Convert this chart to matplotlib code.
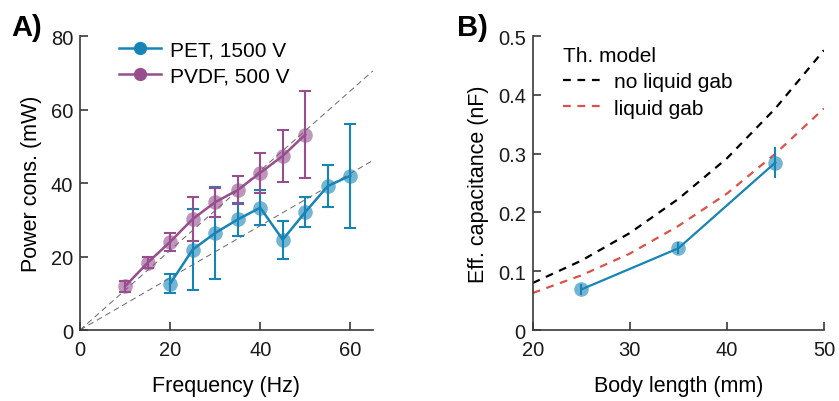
import numpy as np
import matplotlib.pyplot as plt

plt.rcParams['font.family'] = ['Liberation Sans', 'DejaVu Sans']

# Panel A: power consumption vs frequency
pet_freq = [20, 25, 30, 35, 40, 45, 50, 55, 60]
pet_power = [12.6, 21.9, 26.4, 30.1, 33.3, 24.6, 32.1, 39.2, 42.0]
pet_err = [2.6, 11.0, 12.4, 4.6, 4.8, 5.2, 4.0, 5.8, 14.2]

pvdf_freq = [10, 15, 20, 25, 30, 35, 40, 45, 50]
pvdf_power = [11.9, 18.3, 24.0, 30.2, 34.8, 38.1, 42.8, 47.4, 53.2]
pvdf_err = [1.5, 1.5, 2.4, 5.9, 3.9, 3.7, 5.5, 7.0, 11.9]

# slopes of the linear fits through the origin (mW/Hz)
pvdf_slope = 1.085
pet_slope = 0.71

# Panel B: effective capacitance vs body length
body_len = [25, 35, 45]
eff_cap = [0.069, 0.139, 0.285]
eff_cap_err = [0.010, 0.010, 0.027]

model_len = [20, 25, 30, 35, 40, 45, 50]
model_no_gap = [0.080, 0.118, 0.165, 0.223, 0.292, 0.377, 0.476]
model_gap = [0.063, 0.093, 0.130, 0.177, 0.232, 0.300, 0.377]

blue = '#1784b6'
purple = '#974e8e'
red = '#d9534c'
spine_col = '#3a3a3a'

fig = plt.figure(figsize=(8.39, 4.02), dpi=100)
axA = fig.add_axes([0.0954, 0.1766, 0.349, 0.731])
axB = fig.add_axes([0.635, 0.1766, 0.347, 0.731])


def style_axes(ax):
    for side in ['top', 'right']:
        ax.spines[side].set_visible(False)
    for side in ['left', 'bottom']:
        ax.spines[side].set_color(spine_col)
        ax.spines[side].set_linewidth(1.2)
    ax.tick_params(axis='both', direction='in', length=6, width=1.2,
                   color=spine_col, labelsize=14.5, labelcolor='#1a1a1a')
    ax.tick_params(axis='x', pad=7)
    ax.tick_params(axis='y', pad=5)


# ---- Panel A ----
xfit = np.array([0, 65])
axA.plot(xfit, pvdf_slope * xfit, ls=(0, (6, 4)), color='#666666', lw=0.7, zorder=1)
axA.plot(xfit, pet_slope * xfit, ls=(0, (6, 4)), color='#666666', lw=0.7, zorder=1)

for f, p, e, c, lab in [(pet_freq, pet_power, pet_err, blue, 'PET, 1500 V'),
                        (pvdf_freq, pvdf_power, pvdf_err, purple, 'PVDF, 500 V')]:
    axA.errorbar(f, p, yerr=e, fmt='none', ecolor=c, elinewidth=1.5,
                 capsize=4, capthick=1.5, zorder=2)
    axA.plot(f, p, '-', color=c, lw=1.8, zorder=3)
    axA.plot(f, p, 'o', color=c, ms=10.5, mec='none', alpha=0.6, zorder=4)
    axA.plot([], [], '-o', color=c, lw=1.8, ms=8.5, label=lab)

axA.set_xlim(0, 65)
axA.set_ylim(0, 80)
axA.set_xticks([0, 20, 40, 60])
axA.set_yticks([0, 20, 40, 60, 80])
style_axes(axA)
axA.set_xlabel('Frequency (Hz)', fontsize=15.5, labelpad=12)
axA.set_ylabel('Power cons. (mW)', fontsize=15.5, labelpad=6)
axA.legend(loc='upper left', bbox_to_anchor=(0.07, 1.05), frameon=False,
           fontsize=15, handlelength=2.0, handletextpad=0.45, labelspacing=0.35)
fig.text(0.013, 0.93, 'A)', fontsize=21, fontweight='bold', va='center')

# ---- Panel B ----
axB.plot(model_len, model_no_gap, ls=(0, (3.5, 3)), color='black', lw=1.6,
         label='no liquid gab', zorder=1)
axB.plot(model_len, model_gap, ls=(0, (3.5, 3)), color=red, lw=1.6,
         label='liquid gab', zorder=1)
axB.errorbar(body_len, eff_cap, yerr=eff_cap_err, fmt='none', ecolor=blue,
             elinewidth=1.5, capsize=0, zorder=2)
axB.plot(body_len, eff_cap, '-', color=blue, lw=1.6, zorder=3)
axB.plot(body_len, eff_cap, 'o', color=blue, ms=10.5, mec='none', alpha=0.6, zorder=4)

axB.set_xlim(20, 50)
axB.set_ylim(0, 0.5)
axB.set_xticks([20, 30, 40, 50])
axB.set_yticks([0, 0.1, 0.2, 0.3, 0.4, 0.5])
axB.set_yticklabels(['0', '0.1', '0.2', '0.3', '0.4', '0.5'])
style_axes(axB)
axB.set_xlabel('Body length (mm)', fontsize=15.5, labelpad=12)
axB.set_ylabel('Eff. capacitance (nF)', fontsize=15.5, labelpad=6)
legB = axB.legend(loc='upper left', bbox_to_anchor=(0.04, 1.03), frameon=False,
                  fontsize=15, title='Th. model', title_fontsize=15,
                  handlelength=2.0, handletextpad=0.45, labelspacing=0.35)
legB._legend_box.align = 'left'
fig.text(0.545, 0.93, 'B)', fontsize=21, fontweight='bold', va='center')

fig.savefig('out.png', dpi=100)
